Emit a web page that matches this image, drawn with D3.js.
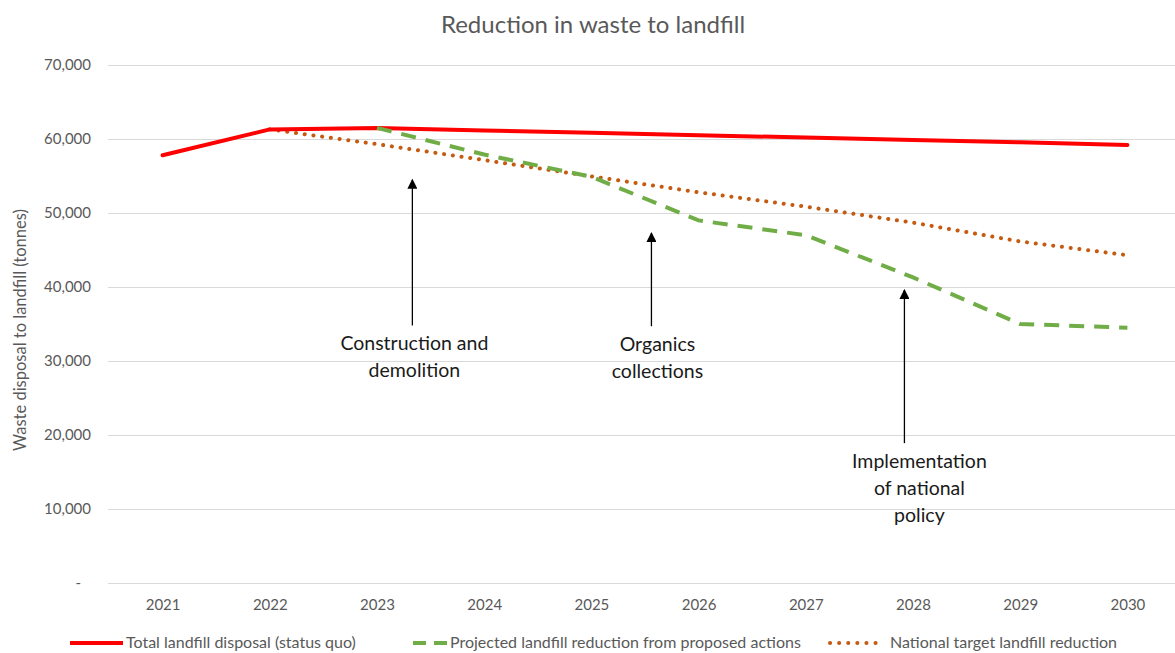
<!DOCTYPE html>
<html>
<head>
<meta charset="utf-8">
<script src="https://cdn.jsdelivr.net/npm/d3@7"></script>
<style>
  body { margin: 0; background: #fff; }
  text { font-family: Lato, "Open Sans", sans-serif; }
  .axis text { fill: #595959; font-size: 15px; }
  .grid line { stroke: #d9d9d9; stroke-width: 1; }
  .note { fill: #1a1a1a; font-size: 19.5px; text-anchor: middle; }
</style>
</head>
<body>
<div id="chart"></div>
<script>
var years = ["2021", "2022", "2023", "2024", "2025", "2026", "2027", "2028", "2029", "2030"];
var statusQuo = [57800, 61300, 61500, 61150, 60850, 60500, 60200, 59850, 59550, 59200];
var proposed = [null, null, 61500, 57900, 54900, 49000, 47000, 41300, 35000, 34500];
var national = [null, 61300, 59300, 57150, 54950, 52800, 50850, 48700, 46150, 44300];
var yTicks = [0, 10000, 20000, 30000, 40000, 50000, 60000, 70000];

var seriesNames = ["Total landfill disposal (status quo)", "Projected landfill reduction from proposed actions", "National target landfill reduction"];

// annotations: year position (fractional index), arrow tip value, arrow tail value, text lines
var notes = [
  { at: 2.33, tip: 54500, tail: 34800, lines: ["Construction and", "demolition"], dx: 2 },
  { at: 4.56, tip: 47300, tail: 34700, lines: ["Organics", "collections"], dx: 6 },
  { at: 6.92, tip: 39600, tail: 18900, lines: ["Implementation", "of national", "policy"], dx: 15 }
];

var width = 1175, height = 653;
var margin = {top: 65, left: 109, bottom: 70};

var svg = d3.select("#chart").append("svg")
  .attr("width", width)
  .attr("height", height);

var x = d3.scalePoint()
  .domain(years)
  .range([margin.left, margin.left + 1072])
  .padding(0.5);

var y = d3.scaleLinear()
  .domain([0, 70000])
  .range([583, 65]);

// gridlines
svg.append("g")
  .attr("class", "grid")
  .selectAll("line")
  .data(yTicks)
  .enter()
  .append("line")
  .attr("x1", 108)
  .attr("x2", width)
  .attr("y1", d => Math.round(y(d)) + 0.5)
  .attr("y2", d => Math.round(y(d)) + 0.5);

// y axis labels
svg.append("g")
  .attr("class", "axis")
  .attr("transform", "translate(91,0)")
  .call(d3.axisLeft(y).tickValues(yTicks).tickSize(0).tickPadding(0)
    .tickFormat(d => d === 0 ? "-" : d3.format(",")(d)))
  .call(g => g.select(".domain").remove())
  .selectAll("text")
  .attr("dx", d => d === 0 ? "-10px" : 0);

// x axis labels
svg.append("g")
  .attr("class", "axis")
  .attr("transform", "translate(0,583)")
  .call(d3.axisBottom(x).tickSize(0).tickPadding(16))
  .call(g => g.select(".domain").remove());

// axis title
svg.append("text")
  .attr("transform", "rotate(-90)")
  .attr("x", -330)
  .attr("y", 26)
  .style("text-anchor", "middle")
  .style("font-size", "16.5px")
  .style("fill", "#595959")
  .text("Waste disposal to landfill (tonnes)");

// chart title
svg.append("text")
  .attr("x", 593)
  .attr("y", 33)
  .style("text-anchor", "middle")
  .style("font-size", "24px")
  .style("fill", "#595959")
  .text("Reduction in waste to landfill");

var line = d3.line()
  .defined(d => d.v !== null)
  .x(d => x(d.year))
  .y(d => y(d.v));

function pts(values) {
  return years.map((yr, i) => ({year: yr, v: values[i]}));
}

var styles = [
  {color: "#ff0000", width: 4, dash: null, cap: "round"},
  {color: "#70ad47", width: 4, dash: "15,10", cap: "butt"},
  {color: "#c55a11", width: 4, dash: "0.1,8.7", cap: "round"}
];

svg.append("path")
  .attr("d", line(pts(national)))
  .attr("fill", "none")
  .attr("stroke", styles[2].color)
  .attr("stroke-width", styles[2].width)
  .attr("stroke-dasharray", styles[2].dash)
  .attr("stroke-linecap", styles[2].cap);

svg.append("path")
  .attr("d", line(pts(statusQuo)))
  .attr("fill", "none")
  .attr("stroke", styles[0].color)
  .attr("stroke-width", styles[0].width)
  .attr("stroke-linejoin", "round")
  .attr("stroke-linecap", styles[0].cap);

svg.append("path")
  .attr("d", line(pts(proposed)))
  .attr("fill", "none")
  .attr("stroke", styles[1].color)
  .attr("stroke-width", styles[1].width)
  .attr("stroke-dasharray", styles[1].dash)
  .attr("stroke-linecap", styles[1].cap);

// arrows
svg.append("defs").append("marker")
  .attr("id", "arrow")
  .attr("viewBox", "0 0 10 10")
  .attr("refX", 9)
  .attr("refY", 5)
  .attr("markerWidth", 10)
  .attr("markerHeight", 10)
  .attr("markerUnits", "userSpaceOnUse")
  .attr("orient", "auto")
  .append("path")
  .attr("d", "M0,0L10,5L0,10Z")
  .attr("fill", "#000");

var step = x.step();
var notesG = svg.selectAll(".noteg")
  .data(notes)
  .enter()
  .append("g")
  .attr("class", "noteg");

notesG.append("line")
  .attr("x1", d => x(years[0]) + d.at * step)
  .attr("x2", d => x(years[0]) + d.at * step)
  .attr("y1", d => y(d.tail))
  .attr("y2", d => y(d.tip))
  .attr("stroke", "#000")
  .attr("stroke-width", 1.3)
  .attr("marker-end", "url(#arrow)");

notesG.each(function(d) {
  var g = d3.select(this);
  d.lines.forEach(function(t, i) {
    g.append("text")
      .attr("class", "note")
      .attr("x", x(years[0]) + d.at * step + d.dx)
      .attr("y", y(d.tail) + 25 + i * 27)
      .text(t);
  });
});

// legend
var legendX = [70, 413, 830];
var legend = svg.selectAll(".legend")
  .data(seriesNames)
  .enter()
  .append("g")
  .attr("class", "legend")
  .attr("transform", (d, i) => "translate(" + legendX[i] + ",643)");

legend.append("line")
  .attr("x1", 0)
  .attr("x2", (d, i) => i === 0 ? 53 : (i === 1 ? 34 : 54))
  .attr("y1", 0)
  .attr("y2", 0)
  .attr("stroke", (d, i) => styles[i].color)
  .attr("stroke-width", (d, i) => styles[i].width)
  .attr("stroke-dasharray", (d, i) => i === 1 ? "13,8" : (i === 2 ? "0.1,9" : null))
  .attr("stroke-linecap", (d, i) => i === 2 ? "round" : "butt");

legend.append("text")
  .attr("x", (d, i) => i === 0 ? 56 : (i === 1 ? 37 : 60))
  .attr("y", 5)
  .style("font-size", "16px")
  .style("fill", "#595959")
  .text(d => d);
</script>
</body>
</html>
